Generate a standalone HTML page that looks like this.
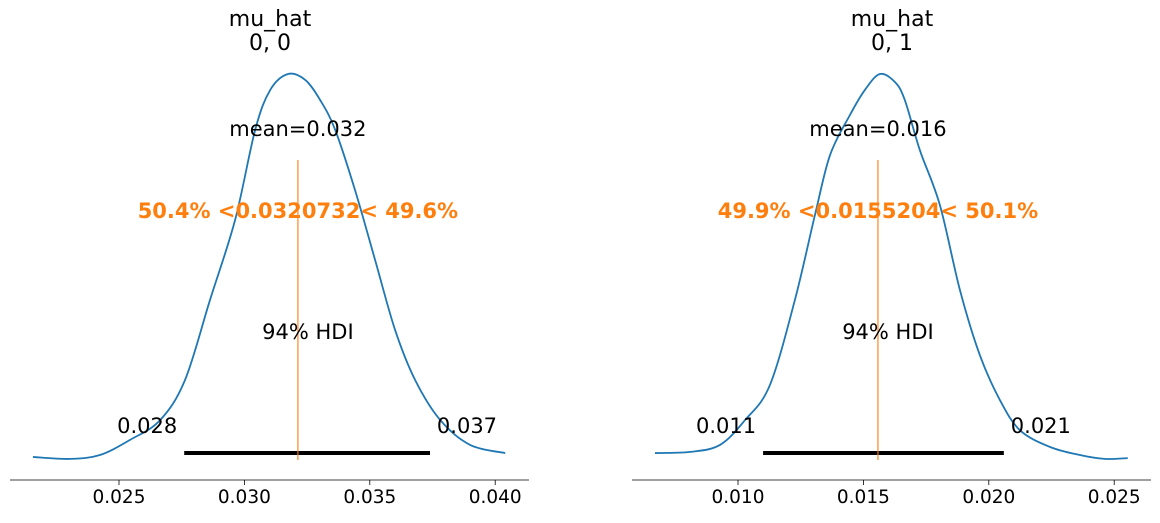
<!DOCTYPE html>
<html><head><meta charset="utf-8"><style>
body{margin:0;background:#fff;font-family:"Liberation Sans","DejaVu Sans",sans-serif}
svg text{font-family:"DejaVu Sans","Liberation Sans",sans-serif}
</style></head><body>
<svg id="c" width="1160" height="518" viewBox="0 0 1160 518"></svg>
<script>
const leftX=[0.02157,0.02305,0.02424,0.02544,0.02664,0.02763,0.02863,0.02963,0.03043,0.03103,0.03174,0.03242,0.03302,0.03362,0.03441,0.03521,0.03601,0.03681,0.03781,0.03900,0.04040];
const leftD=[0.013,0.008,0.018,0.057,0.108,0.211,0.418,0.624,0.856,0.959,1.0,0.985,0.933,0.856,0.701,0.521,0.340,0.211,0.108,0.044,0.023];
const rightX=[0.00669,0.00809,0.00928,0.01028,0.01127,0.01227,0.01307,0.01367,0.01446,0.01506,0.01566,0.01626,0.01665,0.01725,0.01805,0.01885,0.01964,0.02044,0.02124,0.02243,0.02363,0.02462,0.02554];
const rightD=[0.023,0.026,0.044,0.108,0.198,0.418,0.637,0.791,0.894,0.959,1.0,0.979,0.933,0.804,0.662,0.443,0.276,0.160,0.082,0.039,0.018,0.008,0.010];
const leftTicks=[0.025,0.030,0.035,0.040];
const rightTicks=[0.010,0.015,0.020,0.025];
const leftHdi=[0.0276,0.0374];const rightHdi=[0.0110,0.0206];
const leftMean=[0.0320732];const rightMean=[0.0155204];
const leftLabels=["mu_hat","0, 0","mean=0.032","50.4% <0.0320732< 49.6%","0.028","0.037"];
const rightLabels=["mu_hat","0, 1","mean=0.016","49.9% <0.0155204< 50.1%","0.011","0.021"];
const svg=document.getElementById('c');const NS='http://www.w3.org/2000/svg';
function mk(t,a,txt){const e=document.createElementNS(NS,t);for(const k in a)e.setAttribute(k,a[k]);if(txt!=null)e.textContent=txt;svg.appendChild(e);return e;}
function panel(p){
 const sx=v=>p.x0+(v-p.t0)*125.4/0.005;
 const sy=d=>462-d*388;
 const ax=mk('line',{x1:p.a0,x2:p.a1,y1:480,y2:480,stroke:'#000','stroke-width':0.8});
 
 p.ticks.forEach(t=>{const l=mk('line',{x1:sx(t),x2:sx(t),y1:480,y2:485,stroke:'#000','stroke-width':0.8});
  
  const tx=mk('text',{x:sx(t),y:503,'text-anchor':'middle','font-size':18.5},t.toFixed(3));
  });
 const pts=p.xs.map((v,i)=>[sx(v),sy(p.ds[i])]);
 let d='M'+pts[0][0]+','+pts[0][1];
 for(let i=0;i<pts.length-1;i++){const a=pts[i-1]||pts[i],b=pts[i],c=pts[i+1],e=pts[i+2]||c;
  d+=` C${b[0]+(c[0]-a[0])/6},${b[1]+(c[1]-a[1])/6} ${c[0]-(e[0]-b[0])/6},${c[1]-(e[1]-b[1])/6} ${c[0]},${c[1]}`;}
 const cv=mk('path',{d,fill:'none',stroke:'#1f77b4','stroke-width':1.8});
 
 const h=mk('line',{x1:sx(p.hdi[0]),x2:sx(p.hdi[1]),y1:453,y2:453,stroke:'#000','stroke-width':4});
 
 const m=mk('line',{x1:sx(p.mean[0])+1.5,x2:sx(p.mean[0])+1.5,y1:160,y2:460,stroke:'#ff7f0e','stroke-width':1.4,opacity:0.8});
 
 const L=p.labels,cx=sx(p.mean[0])+1.5;
 const specs=[[L[0],p.cx,26,'title',22],[L[1],p.cx,50,'subtitle',22],[L[2],cx,136,'mean-label',21],[L[3],cx,218,'ref-label',21],['94% HDI',cx+10,339,'hdi-label',21],[L[4],sx(p.hdi[0])-37,433,'hdi-low-label',21],[L[5],sx(p.hdi[1])+37,433,'hdi-high-label',21]];
 specs.forEach(s=>{const a={x:s[1],y:s[2],'text-anchor':'middle','font-size':s[4],fill:'#000'};
  if(s[3]=='ref-label'){a.fill='#ff7f0e';a['font-weight']='bold';}
  const t=mk('text',a,s[0]);});
}
panel({n:'left',x0:119,t0:0.025,a0:10,a1:529,cx:270,xs:leftX,ds:leftD,ticks:leftTicks,hdi:leftHdi,mean:leftMean,labels:leftLabels});
panel({n:'right',x0:738,t0:0.010,a0:632,a1:1151,cx:892,xs:rightX,ds:rightD,ticks:rightTicks,hdi:rightHdi,mean:rightMean,labels:rightLabels});
</script>
</body></html>
